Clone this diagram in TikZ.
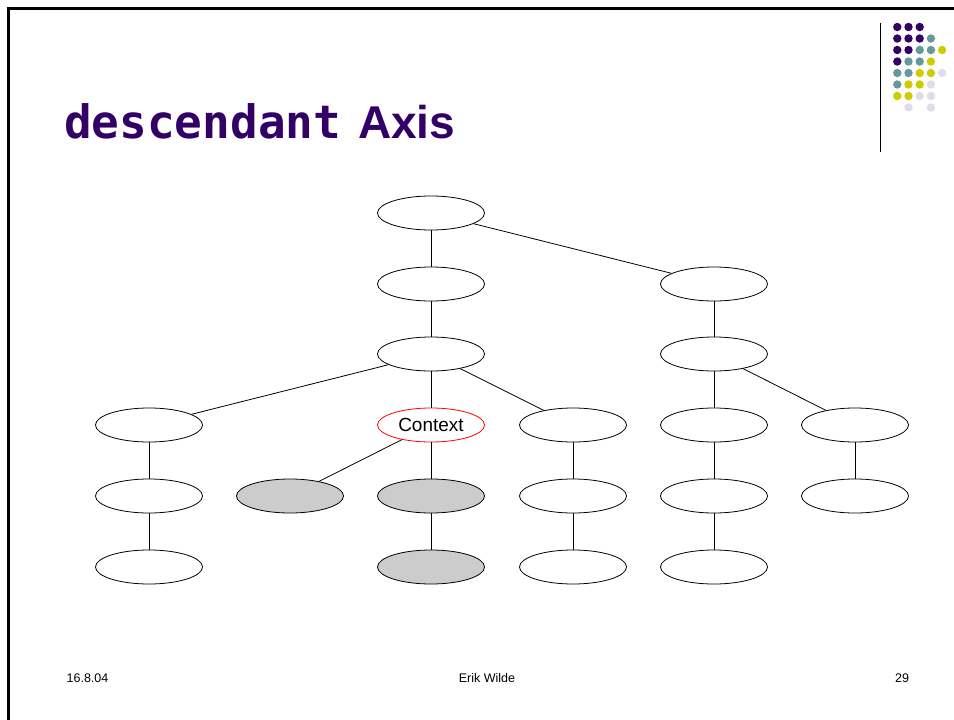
\documentclass[tikz,border=0pt]{standalone}
\usepackage{fontspec}
\setmainfont{Liberation Sans}
\newfontfamily\monobold{DejaVu Sans Mono}[FakeBold=0]
\usetikzlibrary{shapes.geometric}
\definecolor{titlepurple}{HTML}{330066}
\definecolor{dotpurple}{HTML}{330066}
\definecolor{dotteal}{HTML}{669999}
\definecolor{dotyellow}{HTML}{CCCC00}
\definecolor{dotlav}{HTML}{DDDDEE}
\definecolor{hitgray}{HTML}{CCCCCC}
\begin{document}
\begin{tikzpicture}[x=1pt,y=-1pt,
  elem/.style={ellipse,draw=black,line width=0.8pt,fill=white,
    minimum width=107pt,minimum height=34pt,inner sep=0pt},
  ctx/.style={elem,draw=red},
  hit/.style={elem,fill=hitgray},
  link/.style={line width=0.8pt,draw=black},
  foot/.style={font=\fontsize{12.5}{14}\selectfont,anchor=base,inner sep=0pt},
  dot/.style={circle,inner sep=0pt,minimum size=8.4pt}]
\useasboundingbox (0,0) rectangle (954,720);
\fill[white] (0,0) rectangle (954,720);
% slide frame (top and left edges)
\draw[line width=3pt] (8.5,725) -- (8.5,8.5) -- (960,8.5);

% title
\node[anchor=base west,inner sep=0pt,text=titlepurple,
  font=\fontsize{46}{50}\selectfont\bfseries\ttfamily] (t1) at (64,138)
  {\fontspec{DejaVu Sans Mono Bold}descendant};
\node[anchor=base west,inner sep=0pt,text=titlepurple,
  font=\fontsize{46}{50}\selectfont\bfseries] (t2) at (358,138) {Axis};

% logo
\draw[line width=1pt] (880,23) -- (880,152);
\foreach \r/\cols in {
  1/{1/dotpurple,2/dotpurple,3/dotpurple},
  2/{1/dotpurple,2/dotpurple,3/dotpurple,4/dotteal},
  3/{1/dotpurple,2/dotpurple,3/dotteal,4/dotteal,5/dotyellow},
  4/{1/dotpurple,2/dotteal,3/dotteal,4/dotyellow},
  5/{1/dotteal,2/dotteal,3/dotyellow,4/dotyellow,5/dotlav},
  6/{1/dotteal,2/dotyellow,3/dotyellow,4/dotlav},
  7/{1/dotyellow,2/dotyellow,3/dotlav,4/dotlav},
  8/{2/dotlav,4/dotlav}}{
  \foreach \c/\col in \cols {
    \node[dot,fill=\col] (d\r\c) at ({897.3+11.2*(\c-1)},{27+11.5*(\r-1)}) {};
  }
}

% tree
\node[elem] (root) at (431,213) {};
\node[elem] (a) at (431,284) {};
\node[elem] (b) at (714,284) {};
\node[elem] (a1) at (431,354) {};
\node[elem] (b1) at (714,354) {};
\node[elem] (l1) at (149,425) {};
\node[ctx,font=\fontsize{19}{22}\selectfont] (ctx) at (431,425) {Context};
\node[elem] (m1) at (573,425) {};
\node[elem] (b2) at (714,425) {};
\node[elem] (c2) at (855,425) {};
\node[elem] (l2) at (149,496) {};
\node[hit] (h1) at (290,496) {};
\node[hit] (h2) at (431,496) {};
\node[elem] (m2) at (573,496) {};
\node[elem] (b3) at (714,496) {};
\node[elem] (c3) at (855,496) {};
\node[elem] (l3) at (149,567) {};
\node[hit] (h3) at (431,567) {};
\node[elem] (m3) at (573,567) {};
\node[elem] (b4) at (714,567) {};

\draw[link] (root) -- (a);
\draw[link] (root) -- (b);
\draw[link] (a) -- (a1);
\draw[link] (b) -- (b1);
\draw[link] (a1) -- (l1);
\draw[link] (a1) -- (ctx);
\draw[link] (a1) -- (m1);
\draw[link] (b1) -- (b2);
\draw[link] (b1) -- (c2);
\draw[link] (l1) -- (l2);
\draw[link] (l2) -- (l3);
\draw[link] (ctx) -- (h1);
\draw[link] (ctx) -- (h2);
\draw[link] (h2) -- (h3);
\draw[link] (m1) -- (m2);
\draw[link] (m2) -- (m3);
\draw[link] (b2) -- (b3);
\draw[link] (b3) -- (b4);
\draw[link] (c2) -- (c3);

% footer
\node[foot] (date) at (87.5,682.5) {16.8.04};
\node[foot] (author) at (487,682.5) {Erik Wilde};
\node[foot] (page) at (902,682.5) {29};
\end{tikzpicture}
\end{document}
